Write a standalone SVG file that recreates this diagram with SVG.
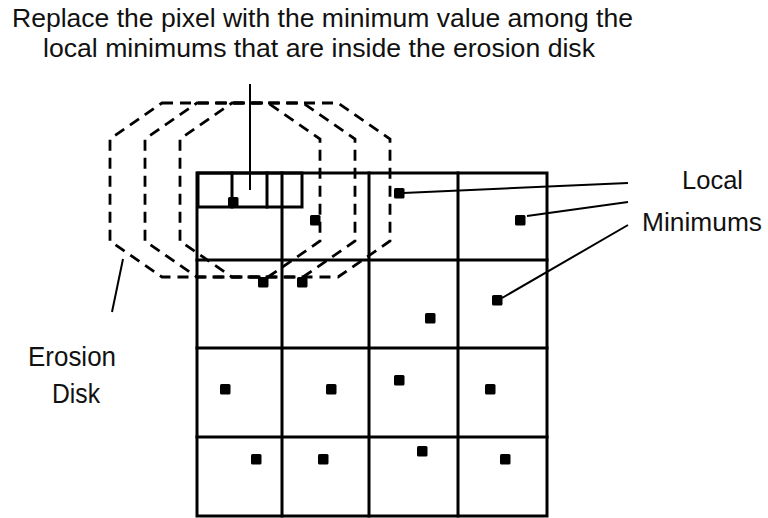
<svg xmlns="http://www.w3.org/2000/svg" width="768" height="518" viewBox="0 0 768 518">
<style>
.t{font-family:"Liberation Sans",Arial,sans-serif;font-size:26px;fill:#111}
.g{fill:none;stroke:#000;stroke-width:3;stroke-linecap:square}
.d{fill:none;stroke:#000;stroke-width:2.8;stroke-dasharray:11 7}
.c{fill:none;stroke:#000;stroke-width:2}
.m{fill:#000}
</style>
<rect width="768" height="518" fill="#fff"/>
<g id="title">
<text class="t" x="12" y="27" textLength="621" lengthAdjust="spacingAndGlyphs">Replace the pixel with the minimum value among the</text>
<text class="t" x="43" y="57" textLength="552" lengthAdjust="spacingAndGlyphs">local minimums that are inside the erosion disk</text>
</g>
<g id="grid">
<rect class="g" x="197" y="173" width="350" height="343"/>
<path class="g" d="M282 173V516M369 173V516M458 173V516M197 260H547M197 348H547M197 437H547"/>
</g>
<g id="pixel-box">
<rect class="g" x="198" y="173" width="104" height="34"/>
<path class="g" d="M232 173V207M267 173V207"/>
</g>
<g id="erosion-disks">
<polygon class="d" points="162,103 268,103 320,139 320,241 268,277 162,277 110,241 110,139"/>
<polygon class="d" points="197,103 303,103 355,139 355,241 303,277 197,277 145,241 145,139"/>
<polygon class="d" points="232,103 338,103 390,139 390,241 338,277 232,277 180,241 180,139"/>
</g>
<g id="local-minimums">
<rect class="m" x="228" y="197" width="10.5" height="10.5" rx="1.5"/>
<rect class="m" x="310" y="215" width="10.5" height="10.5" rx="1.5"/>
<rect class="m" x="394" y="188" width="10.5" height="10.5" rx="1.5"/>
<rect class="m" x="515" y="215" width="10.5" height="10.5" rx="1.5"/>
<rect class="m" x="258" y="277" width="10.5" height="10.5" rx="1.5"/>
<rect class="m" x="297" y="277" width="10.5" height="10.5" rx="1.5"/>
<rect class="m" x="425" y="313" width="10.5" height="10.5" rx="1.5"/>
<rect class="m" x="492" y="295" width="10.5" height="10.5" rx="1.5"/>
<rect class="m" x="220" y="384" width="10.5" height="10.5" rx="1.5"/>
<rect class="m" x="326" y="384" width="10.5" height="10.5" rx="1.5"/>
<rect class="m" x="394" y="375" width="10.5" height="10.5" rx="1.5"/>
<rect class="m" x="485" y="384" width="10.5" height="10.5" rx="1.5"/>
<rect class="m" x="251" y="454" width="10.5" height="10.5" rx="1.5"/>
<rect class="m" x="318" y="454" width="10.5" height="10.5" rx="1.5"/>
<rect class="m" x="417" y="446" width="10.5" height="10.5" rx="1.5"/>
<rect class="m" x="500" y="454" width="10.5" height="10.5" rx="1.5"/>
</g>
<g id="label-local-minimums">
<text class="t" x="682" y="189" textLength="61" lengthAdjust="spacingAndGlyphs">Local</text>
<text class="t" x="642" y="231" textLength="120" lengthAdjust="spacingAndGlyphs">Minimums</text>
</g>
<g id="label-erosion-disk">
<text class="t" x="28" y="366" textLength="88" lengthAdjust="spacingAndGlyphs" style="font-size:27px">Erosion</text>
<text class="t" x="52" y="403" textLength="48" lengthAdjust="spacingAndGlyphs" style="font-size:27px">Disk</text>
</g>
<g id="connectors">
<path class="c" d="M250 84V190"/>
<path class="c" d="M403 193L628 183"/>
<path class="c" d="M527 216L628 202"/>
<path class="c" d="M502 298L628 225"/>
<path class="c" d="M123 259L112 312"/>
</g>
</svg>
